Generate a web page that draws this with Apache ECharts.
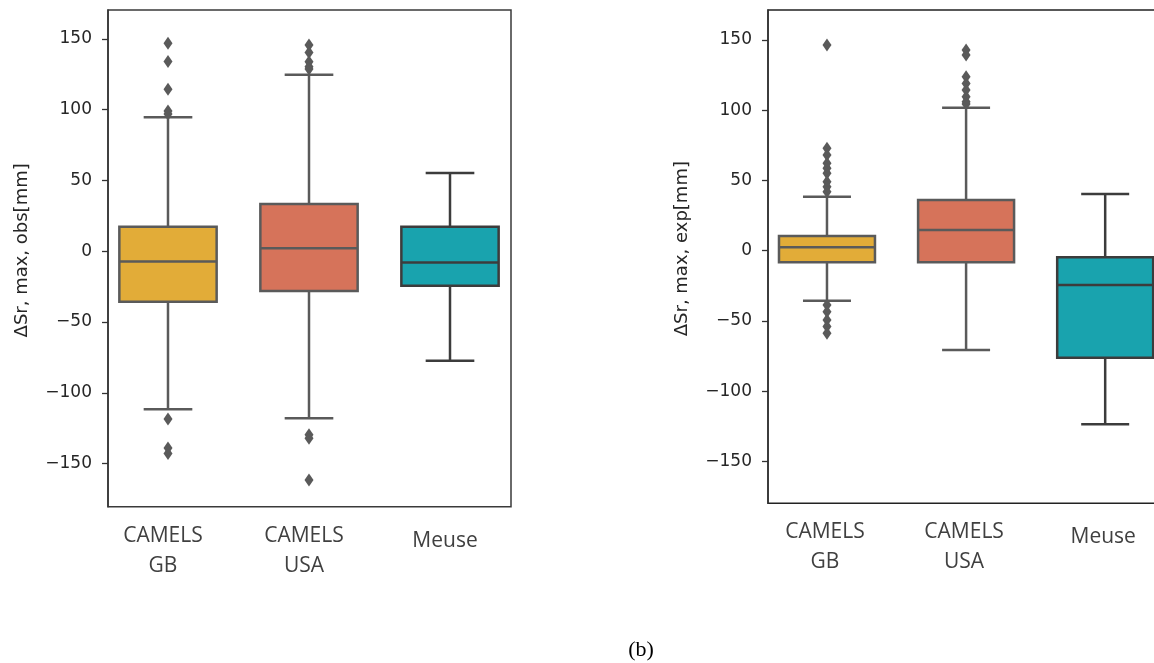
<!DOCTYPE html>
<html><head><meta charset="utf-8">
<script src="https://cdn.jsdelivr.net/npm/echarts@6/dist/echarts.min.js"></script>
<style>html,body{margin:0;padding:0;background:#fff}#c{width:1154px;height:663px}</style>
</head><body><div id="c"></div>
<script>
const categories = ['CAMELS\nGB', 'CAMELS\nUSA', 'Meuse'];
const yTicks = [-150, -100, -50, 0, 50, 100, 150];

// [lower whisker, Q1, median, Q3, upper whisker]
const obsBoxes = [
  [-111.6, -35.6, -7.3, 17.4, 94.6],
  [-118.0, -28.0, 2.1, 33.4, 124.7],
  [-77.3, -24.3, -8.0, 17.4, 55.3]
];
const obsOutliers = [
  [146.9, 134.0, 114.5, 99.0, 97.0, -118.5, -139.0, -142.8],
  [145.7, 140.3, 133.9, 130.4, 128.7, -129.5, -132.0, -161.5],
  []
];
const expBoxes = [
  [-35.6, -8.3, 2.4, 10.5, 38.4],
  [-70.6, -8.3, 14.7, 36.1, 101.7],
  [-123.5, -76.1, -24.4, -4.7, 40.3]
];
const expOutliers = [
  [146.3, 72.8, 68.0, 62.1, 58.6, 55.0, 49.0, 45.5, 42.0, -38.6, -43.4, -49.3, -54.0, -58.8],
  [142.7, 139.2, 123.8, 119.0, 114.3, 109.5, 106.0, 104.4],
  []
];
const obsName = 'ΔSr, max, obs[mm]';
const expName = 'ΔSr, max, exp[mm]';

const boxColors = ['#e2ac38', '#d6735a', '#19a3ae'];
const edgeColors = ['#5a5a5a', '#5a5a5a', '#3c3c3c'];
const BOX_FRAC = 0.69, CAP_FRAC = 0.5, LW = 2.5;

function renderBox(params, api) {
  const i = api.value(0);
  const lo = api.coord([i, api.value(1)]);
  const q1 = api.coord([i, api.value(2)]);
  const md = api.coord([i, api.value(3)]);
  const q3 = api.coord([i, api.value(4)]);
  const hi = api.coord([i, api.value(5)]);
  const unit = api.size([1, 0])[0];
  const hw = unit * BOX_FRAC / 2;
  const cw = hw * CAP_FRAC;
  const cx = lo[0];
  const edge = edgeColors[i];
  const ls = {stroke: edge, lineWidth: LW};
  return {type: 'group', children: [
    {type: 'line', shape: {x1: cx, y1: q3[1], x2: cx, y2: hi[1]}, style: ls},
    {type: 'line', shape: {x1: cx, y1: q1[1], x2: cx, y2: lo[1]}, style: ls},
    {type: 'line', shape: {x1: cx - cw, y1: hi[1], x2: cx + cw, y2: hi[1]}, style: ls},
    {type: 'line', shape: {x1: cx - cw, y1: lo[1], x2: cx + cw, y2: lo[1]}, style: ls},
    {type: 'rect', shape: {x: cx - hw, y: q3[1], width: 2 * hw, height: q1[1] - q3[1]},
      style: {fill: boxColors[i], stroke: edge, lineWidth: LW}},
    {type: 'line', shape: {x1: cx - hw, y1: md[1], x2: cx + hw, y2: md[1]}, style: ls}
  ]};
}

const boxData = b => b.map((s, i) => [i].concat(s));
const outData = o => { const r = []; o.forEach((arr, i) => arr.forEach(v => r.push([i, v]))); return r; };

const labelFont = 'Open Sans';
function xAxisCfg(gridIndex, min, max, shift) {
  return {
    type: 'value', gridIndex, min, max,
    axisLine: {show: false, onZero: false}, axisTick: {show: false}, splitLine: {show: false},
    axisLabel: {
      customValues: [0, 1, 2], margin: 14,
      fontFamily: labelFont, fontSize: 21, lineHeight: 30, color: '#404040',
      padding: [0, shift, 0, 0],
      formatter: v => {
        const c = categories[Math.round(v)];
        return c.indexOf('\n') < 0 ? '{m|' + c + '}' : c;
      },
      rich: {m: {fontFamily: labelFont, fontSize: 21, lineHeight: 40, color: '#404040'}}
    }
  };
}
function yAxisCfg(gridIndex, min, max, name) {
  return {
    type: 'value', gridIndex, min, max, name,
    nameLocation: 'middle', nameGap: 77, nameRotate: 90,
    nameTextStyle: {fontFamily: 'DejaVu Sans', fontSize: 18, color: '#262626', padding: [0, 0, 0, 16]},
    axisLine: {show: true, onZero: false, lineStyle: {color: '#333', width: 1.5}},
    axisTick: {show: true, length: 6, customValues: yTicks, lineStyle: {color: '#333', width: 1.3}},
    axisLabel: {customValues: yTicks, margin: 16, fontFamily: 'DejaVu Sans', fontSize: 17, color: '#262626',
      formatter: v => String(v).replace('-', '\u2212')},
    splitLine: {show: false}
  };
}

const chart = echarts.init(document.getElementById('c'), null, {renderer: 'canvas'});
chart.setOption({
  backgroundColor: '#fff',
  animation: false,
  grid: [
    {left: 108, top: 10, width: 403, height: 496.7, show: true, borderColor: '#3a3a3a', borderWidth: 1.5,
      containLabel: false, outerBoundsMode: 'none'},
    {left: 768, top: 10, width: 397, height: 493.3, show: true, borderColor: '#222', borderWidth: 1.5,
      containLabel: false, outerBoundsMode: 'none'}
  ],
  xAxis: [xAxisCfg(0, -0.4255, 2.4326, 10), xAxisCfg(1, -0.424, 2.43, 4)],
  yAxis: [yAxisCfg(0, -180.4, 170.4, obsName), yAxisCfg(1, -179.7, 171.2, expName)],
  series: [
    {type: 'custom', xAxisIndex: 0, yAxisIndex: 0, renderItem: renderBox, data: boxData(obsBoxes),
      encode: {x: 0, y: [1, 2, 3, 4, 5]}, z: 2},
    {type: 'scatter', xAxisIndex: 0, yAxisIndex: 0, data: outData(obsOutliers), symbol: 'diamond',
      symbolSize: [9, 13], itemStyle: {color: '#5a5a5a', opacity: 1}, z: 3},
    {type: 'custom', xAxisIndex: 1, yAxisIndex: 1, renderItem: renderBox, data: boxData(expBoxes),
      encode: {x: 0, y: [1, 2, 3, 4, 5]}, z: 2},
    {type: 'scatter', xAxisIndex: 1, yAxisIndex: 1, data: outData(expOutliers), symbol: 'diamond',
      symbolSize: [9, 13], itemStyle: {color: '#5a5a5a', opacity: 1}, z: 3}
  ],
  graphic: [
    {type: 'text', x: 641, y: 650, style: {text: '(b)', font: '22px "Liberation Serif"', fill: '#000',
      align: 'center', verticalAlign: 'middle', textAlign: 'center', textVerticalAlign: 'middle'}}
  ]
});
</script>
</body></html>
